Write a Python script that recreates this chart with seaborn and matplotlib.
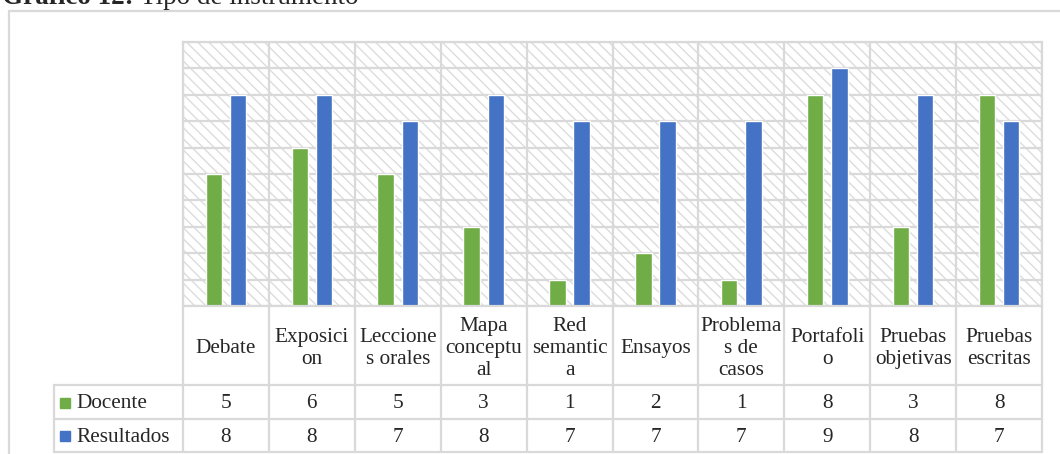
"""
Grafico 12: tipo de instrumento (Docente vs Resultados), Excel-style bars with data table.
"""

import matplotlib
matplotlib.use("Agg")
import matplotlib.pyplot as plt
import numpy as np
import pandas as pd
import seaborn as sns
from matplotlib.lines import Line2D
from matplotlib.patches import Rectangle

# data
categorias = [
    "Debate", "Exposicion", "Lecciones orales", "Mapa conceptual",
    "Red semantica", "Ensayos", "Problemas de casos", "Portafolio",
    "Pruebas objetivas", "Pruebas escritas",
]
etiquetas = [
    "Debate", "Exposici\non", "Leccione\ns orales", "Mapa\nconceptu\nal",
    "Red\nsemantic\na", "Ensayos", "Problema\ns de\ncasos", "Portafoli\no",
    "Pruebas\nobjetivas", "Pruebas\nescritas",
]
series = ["Docente", "Resultados"]
docente = [5, 6, 5, 3, 1, 2, 1, 8, 3, 8]
resultados = [8, 8, 7, 8, 7, 7, 7, 9, 8, 7]
colores = ["#70ad47", "#4472c4"]

GRID = "#d9d9d9"

df = pd.DataFrame({
    "instrumento": categorias * 2,
    "serie": [series[0]] * len(categorias) + [series[1]] * len(categorias),
    "valor": docente + resultados,
})

sns.set_style("white")
plt.rcParams["font.family"] = ["Liberation Serif", "DejaVu Serif"]

W, H = 1060, 454
fig = plt.figure(figsize=(W / 100, H / 100), dpi=100)


def rect(l, t, r, b):
    return [l / W, 1 - b / H, (r - l) / W, (b - t) / H]


# plot area
ax = fig.add_axes(rect(183, 42, 1042, 306))
ax.add_patch(Rectangle((0, 0), 1, 1, transform=ax.transAxes, facecolor="white",
                       edgecolor="#dcdcdc", hatch="\\\\\\", lw=0, zorder=0))
sns.barplot(data=df, x="instrumento", y="valor", hue="serie", palette=colores,
            width=0.564, gap=0.32, saturation=1, legend=False, ax=ax, zorder=2)
n = len(categorias)
ax.set_xlim(-0.5, n - 0.5)
ax.set_ylim(0, 10)
ax.set_xticks(np.arange(-0.5, n, 1))
ax.set_yticks(range(0, 11))
ax.set_xticklabels([])
ax.set_yticklabels([])
ax.tick_params(length=0)
ax.set_xlabel("")
ax.set_ylabel("")
ax.grid(True, color=GRID, lw=1.6)
ax.set_axisbelow(True)
for s in ax.spines.values():
    s.set_color(GRID)
    s.set_linewidth(1.6)

# data table below the plot
col_px = (1042 - 183) / n
x_left = -0.5 - (183 - 54) / col_px
hdr_h, row_h = 79, 33.5
tab = fig.add_axes(rect(54, 306, 1042, 452))
tab.set_xlim(x_left, n - 0.5)
tab.set_ylim(hdr_h + 2 * row_h, 0)
tab.axis("off")

kw = dict(color=GRID, lw=1.6, clip_on=False)
for xb in np.arange(-0.5, n, 1):
    tab.plot([xb, xb], [0, hdr_h + 2 * row_h], **kw)
tab.plot([x_left, x_left], [hdr_h, hdr_h + 2 * row_h], **kw)
for yb in [hdr_h, hdr_h + row_h, hdr_h + 2 * row_h]:
    tab.plot([x_left, n - 0.5], [yb, yb], **kw)

FS = 15.3
for i, lab in enumerate(etiquetas):
    tab.text(i, hdr_h / 2 + 3, lab, ha="center", va="center", fontsize=FS,
             linespacing=1.2)

for r, (nombre, vals, col) in enumerate(zip(series, [docente, resultados], colores)):
    yc = hdr_h + row_h * (r + 0.5) + 2
    tab.plot(x_left + 11 / col_px, yc - 1, marker="s", ms=7, color=col, clip_on=False)
    tab.text(x_left + 22 / col_px, yc, nombre, ha="left", va="center", fontsize=FS)
    for i, v in enumerate(vals):
        tab.text(i, yc, str(v), ha="center", va="center", fontsize=FS)

# outer frame
fig.add_artist(Line2D([9 / W, 9 / W], [0, 1 - 11 / H], color=GRID, lw=1.6,
                      transform=fig.transFigure))
fig.add_artist(Line2D([9 / W, 1], [1 - 11 / H, 1 - 11 / H], color=GRID, lw=1.6,
                      transform=fig.transFigure))

# title, clipped at the top like the reference
t1 = fig.text(2 / W, 1 - 4 / H, "Gráfico 12:", fontsize=19.5, fontweight="bold",
              va="baseline", ha="left")
fig.canvas.draw()
bb = t1.get_window_extent(fig.canvas.get_renderer())
fig.text(bb.x1 / W + 6 / W, 1 - 4 / H, "Tipo de instrumento", fontsize=19.5,
         va="baseline", ha="left")

fig.savefig("out.png", dpi=100)
plt.close(fig)
